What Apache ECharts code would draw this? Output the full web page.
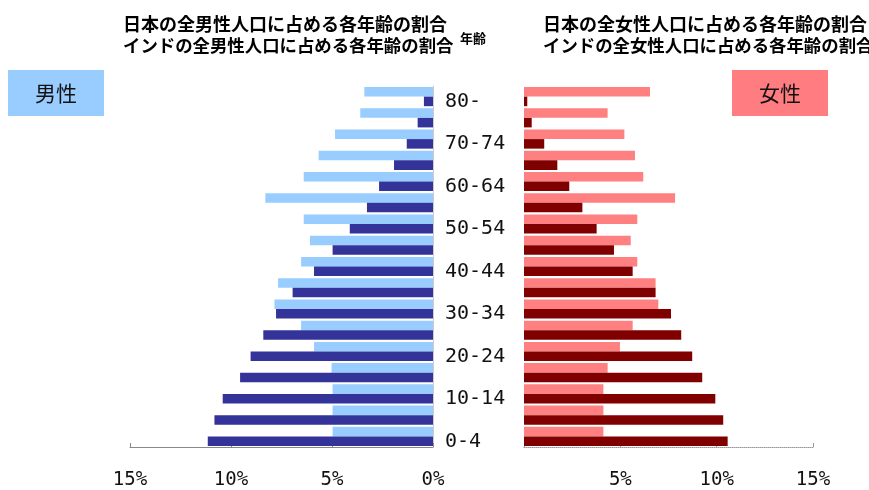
<!DOCTYPE html>
<html>
<head>
<meta charset="utf-8">
<script src="https://cdn.jsdelivr.net/npm/echarts@6/dist/echarts.min.js"></script>
<style>
  html, body { margin: 0; padding: 0; background: #fff; }
  #chart { width: 869px; height: 490px; }
</style>
</head>
<body>
<div id="chart"></div>
<script>
// 年齢区分（下から上へ）
var ages = ['0-4', '5-9', '10-14', '15-19', '20-24', '25-29', '30-34', '35-39', '40-44',
  '45-49', '50-54', '55-59', '60-64', '65-69', '70-74', '75-79', '80-']
// 男性（%）
var japanMale = [4.97, 4.97, 4.97, 5.02, 5.89, 6.53, 7.85, 7.67, 6.53, 6.09, 6.4, 8.3, 6.4, 5.66, 4.85, 3.6, 3.4]
var indiaMale = [11.15, 10.82, 10.41, 9.55, 9.03, 8.4, 7.77, 6.95, 5.89, 4.97, 4.12, 3.27, 2.67, 1.93, 1.3, 0.76, 0.45]
// 女性（%）
var japanFemale = [4.12, 4.12, 4.12, 4.34, 4.98, 5.64, 6.97, 6.83, 5.88, 5.54, 5.88, 7.84, 6.19, 5.76, 5.21, 4.34, 6.54]
var indiaFemale = [10.57, 10.34, 9.93, 9.25, 8.73, 8.16, 7.63, 6.83, 5.64, 4.67, 3.77, 3.03, 2.35, 1.73, 1.05, 0.4, 0.17]
var pctTicks = [0, 5, 10, 15]

var numFont = 'DejaVu Sans Mono'

var chart = echarts.init(document.getElementById('chart'))

function barSeries (name, data, color, axisIndex) {
  return {
    name: name,
    type: 'bar',
    xAxisIndex: axisIndex,
    yAxisIndex: axisIndex,
    data: data,
    barGap: '0%',
    barCategoryGap: '10%',
    itemStyle: { color: color },
    silent: true
  }
}

var option = {
  animation: false,
  grid: [
    { left: 130, right: 436, top: 86, bottom: 39 },
    { left: 524, right: 56, top: 86, bottom: 39 }
  ],
  xAxis: [{
    gridIndex: 0,
    type: 'value',
    inverse: true,
    min: pctTicks[0],
    max: pctTicks[pctTicks.length - 1],
    interval: 5,
    splitLine: { show: false },
    axisLine: { show: true, lineStyle: { color: '#888' } },
    axisTick: { show: true, inside: true, length: 4, lineStyle: { color: '#888' } },
    axisLabel: {
      margin: 24,
      fontFamily: numFont,
      fontSize: 19,
      color: '#111',
      formatter: function (v) { return v + '%' }
    }
  }, {
    gridIndex: 1,
    type: 'value',
    min: pctTicks[0],
    max: pctTicks[pctTicks.length - 1],
    interval: 5,
    splitLine: { show: false },
    axisLine: { show: true, lineStyle: { color: '#999', type: 'dotted' } },
    axisTick: { show: true, inside: true, length: 4, lineStyle: { color: '#999' } },
    axisLabel: {
      margin: 24,
      fontFamily: numFont,
      fontSize: 19,
      color: '#111',
      formatter: function (v) { return v === 0 ? '' : v + '%' }
    }
  }],
  yAxis: [{
    gridIndex: 0,
    type: 'category',
    position: 'right',
    data: ages,
    axisLine: { show: true, lineStyle: { color: '#ccc' } },
    axisTick: { show: false },
    axisLabel: {
      interval: 1,
      margin: 12,
      align: 'left',
      verticalAlign: 'top',
      lineHeight: 10,
      fontFamily: numFont,
      fontSize: 20,
      color: '#111'
    }
  }, {
    gridIndex: 1,
    type: 'category',
    data: ages,
    axisLine: { show: false },
    axisTick: { show: false },
    axisLabel: { show: false }
  }],
  series: [
    barSeries('日本 男性', japanMale, '#99CCFF', 0),
    barSeries('インド 男性', indiaMale, '#333399', 0),
    barSeries('日本 女性', japanFemale, '#FF8080', 1),
    barSeries('インド 女性', indiaFemale, '#800000', 1)
  ],
  graphic: [
    { type: 'text', left: 123, top: 15, style: { text: '日本の全男性人口に占める各年齢の割合', font: 'bold 18px "Noto Sans CJK JP"', fill: '#000' } },
    { type: 'text', left: 123, top: 37, style: { text: 'インドの全男性人口に占める各年齢の割合', font: 'bold 17.4px "Noto Sans CJK JP"', fill: '#000' } },
    { type: 'text', left: 460, top: 32, style: { text: '年齢', font: 'bold 13px "Noto Sans CJK JP"', fill: '#000' } },
    { type: 'text', left: 543, top: 15, style: { text: '日本の全女性人口に占める各年齢の割合', font: 'bold 18px "Noto Sans CJK JP"', fill: '#000' } },
    { type: 'text', left: 543, top: 37, style: { text: 'インドの全女性人口に占める各年齢の割合', font: 'bold 17.4px "Noto Sans CJK JP"', fill: '#000' } },
    {
      type: 'group', left: 8, top: 70,
      children: [
        { type: 'rect', shape: { x: 0, y: 0, width: 96, height: 46 }, style: { fill: '#99CCFF' } },
        { type: 'text', x: 48, y: 23, style: { text: '男性', font: '21px "Noto Sans CJK JP"', fill: '#111', align: 'center', verticalAlign: 'middle' } }
      ]
    },
    {
      type: 'group', left: 732, top: 70,
      children: [
        { type: 'rect', shape: { x: 0, y: 0, width: 96, height: 46 }, style: { fill: '#FF7C80' } },
        { type: 'text', x: 48, y: 23, style: { text: '女性', font: '21px "Noto Sans CJK JP"', fill: '#111', align: 'center', verticalAlign: 'middle' } }
      ]
    }
  ]
}

chart.setOption(option)
</script>
</body>
</html>
